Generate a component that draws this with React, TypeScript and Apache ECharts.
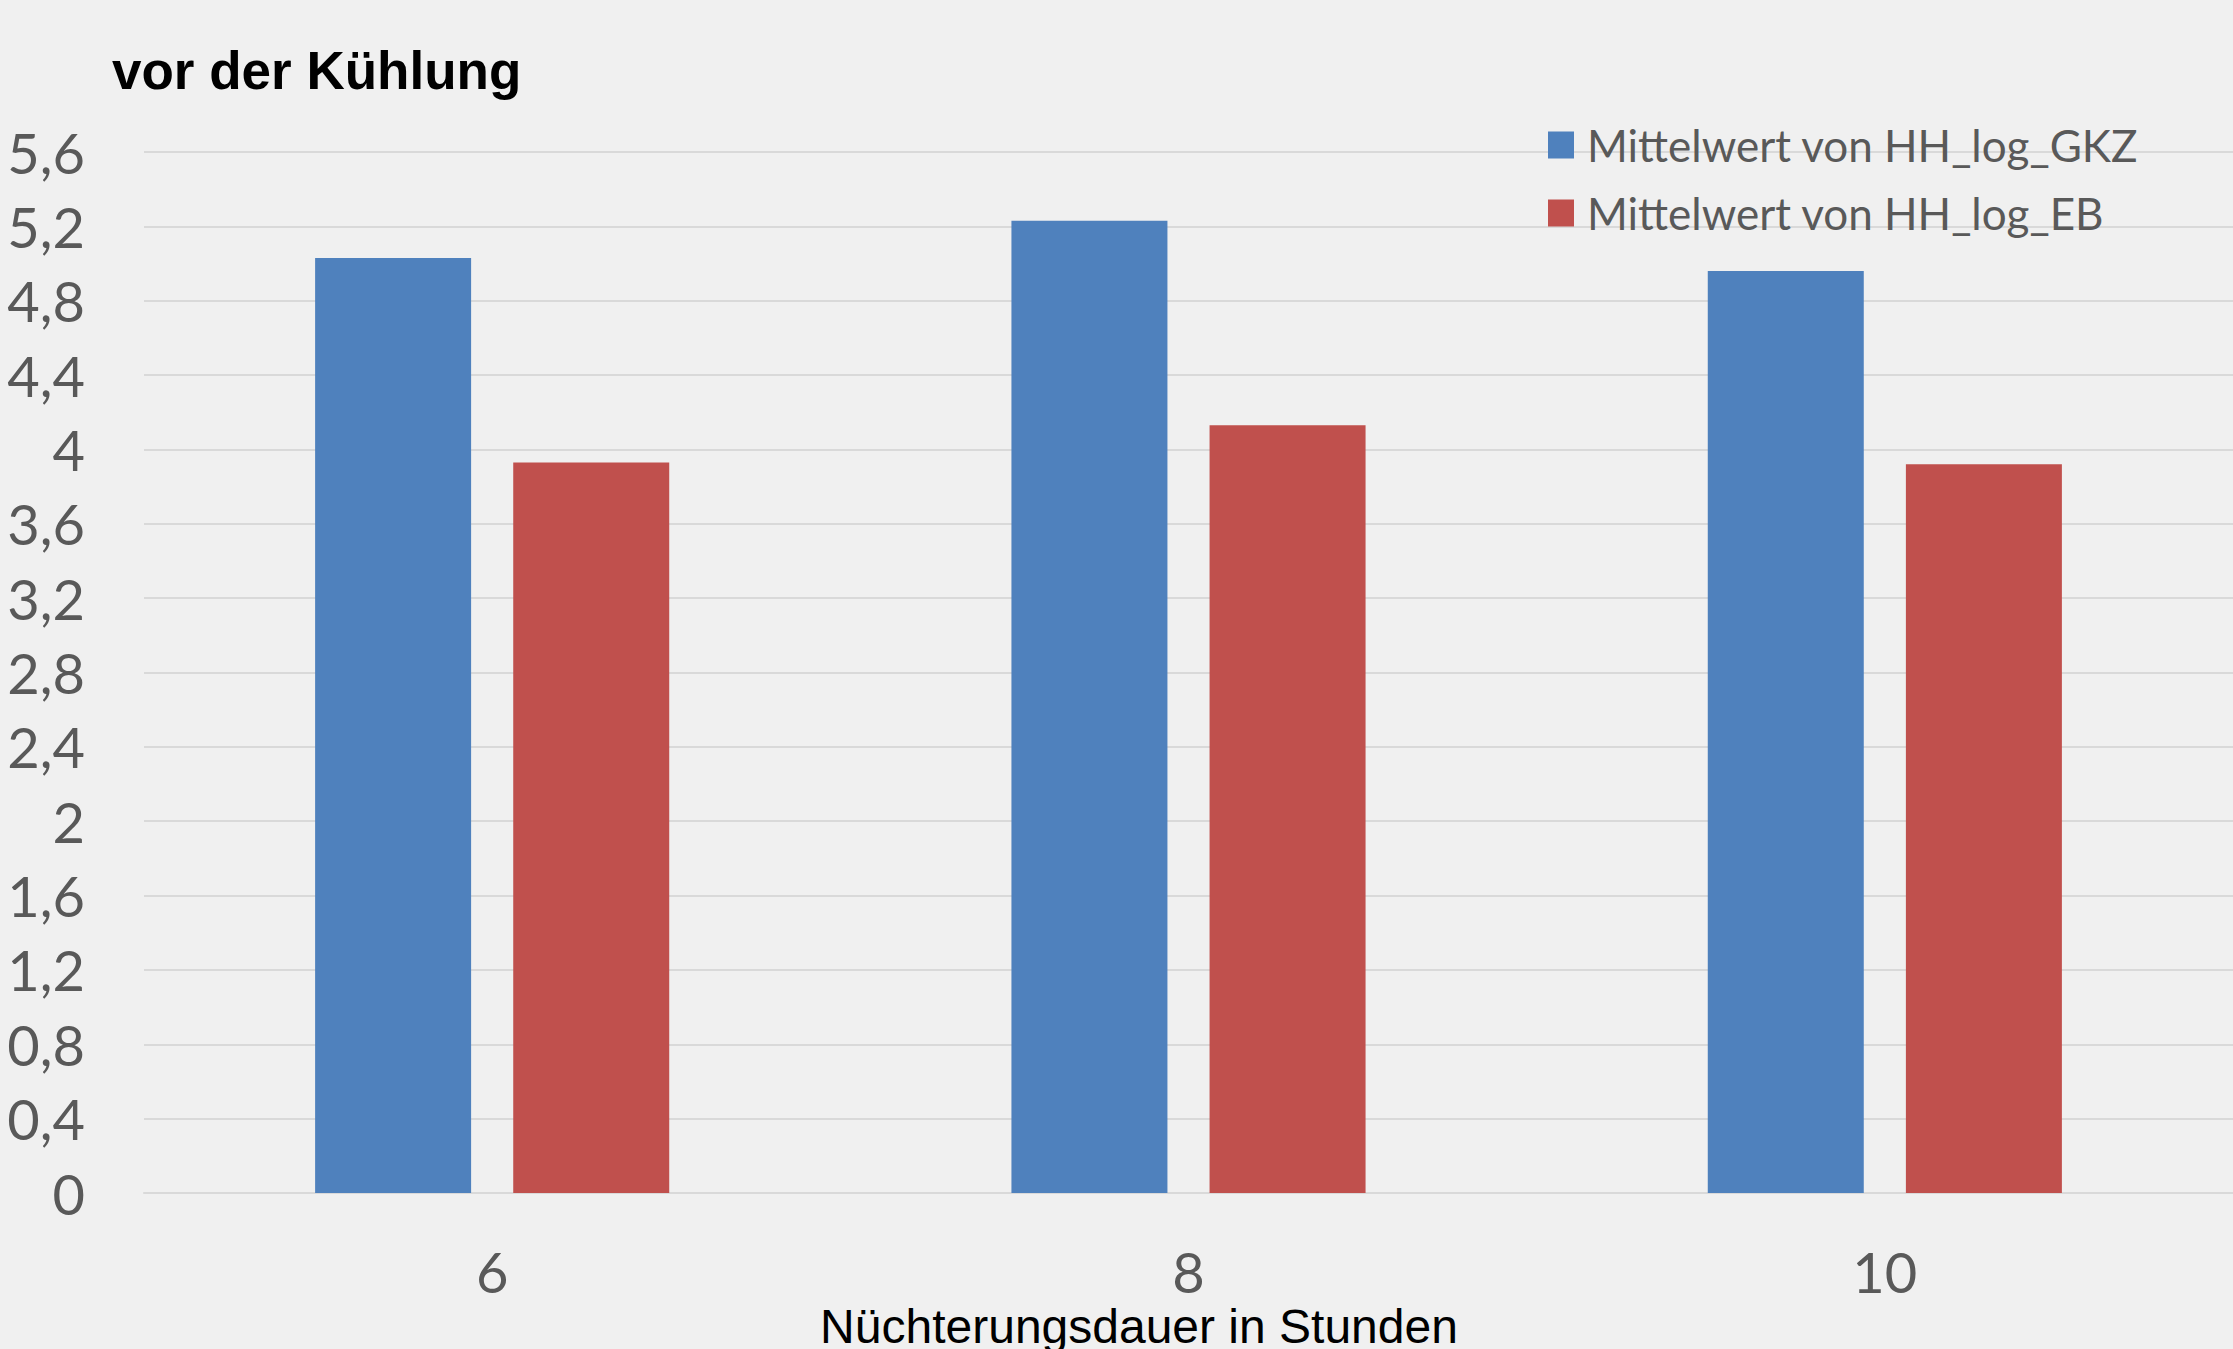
import React, { useEffect, useRef } from "react";
import * as echarts from "echarts";

// Fasting duration in hours (x categories)
const categories = ["6", "8", "10"];
// Mean values per fasting duration
const seriesNames = ["Mittelwert von HH_log_GKZ", "Mittelwert von HH_log_EB"];
const gkzValues = [5.03, 5.23, 4.96];
const ebValues = [3.93, 4.13, 3.92];

const subtitle = "vor der Kühlung";
const xAxisTitle = "Nüchterungsdauer in Stunden";

const BLUE = "#4F81BD";
const RED = "#C0504D";
const GRID = "#D9D9D9";
const LABEL = "#595959";
const BG = "#F0F0F0";
const LABEL_FONT = "Lato, 'Open Sans', sans-serif";

export default function App() {
  const ref = useRef<HTMLDivElement>(null);

  useEffect(() => {
    if (!ref.current) return;
    const chart = echarts.init(ref.current, undefined, { renderer: "svg" });
    chart.setOption({
      animation: false,
      backgroundColor: BG,
      grid: { left: 144, top: 152, width: 2093, height: 1041 },
      legend: {
        orient: "vertical",
        left: 1548,
        top: 123,
        padding: 0,
        itemWidth: 26,
        itemHeight: 27,
        itemGap: 24,
        icon: "rect",
        textStyle: {
          color: LABEL,
          fontSize: 44,
          fontFamily: LABEL_FONT,
          padding: [0, 0, 0, 8],
        },
        data: seriesNames,
      },
      xAxis: {
        type: "category",
        data: categories,
        axisLine: { show: true, lineStyle: { color: GRID, width: 2 } },
        axisTick: { show: false },
        axisLabel: {
          color: LABEL,
          fontSize: 56,
          fontFamily: LABEL_FONT,
          margin: 50,
        },
      },
      yAxis: {
        type: "value",
        min: 0,
        max: 5.6,
        interval: 0.4,
        axisLine: { show: false },
        axisTick: { show: false },
        splitLine: { lineStyle: { color: GRID, width: 2 } },
        axisLabel: {
          color: LABEL,
          fontSize: 56,
          fontFamily: LABEL_FONT,
          margin: 59,
          padding: [0, 0, 8, 0],
          formatter: (v: number) =>
            String(parseFloat(v.toFixed(1))).replace(".", ","),
        },
      },
      series: [
        {
          name: seriesNames[0],
          type: "bar",
          data: gkzValues,
          barWidth: 156,
          barGap: "27%",
          itemStyle: { color: BLUE },
        },
        {
          name: seriesNames[1],
          type: "bar",
          data: ebValues,
          barWidth: 156,
          barGap: "27%",
          itemStyle: { color: RED },
        },
      ],
      graphic: [
        {
          type: "text",
          left: 112,
          top: 44,
          style: {
            text: subtitle,
            fill: "#000",
            font: "bold 53px 'Liberation Sans', Arial, sans-serif",
          },
        },
        {
          type: "text",
          x: 1139,
          y: 1326,
          style: {
            text: xAxisTitle,
            fill: "#000",
            font: "48px 'Liberation Sans', Arial, sans-serif",
            align: "center",
            verticalAlign: "middle",
          },
        },
      ],
    });
    return () => chart.dispose();
  }, []);

  return (
    <div
      ref={ref}
      style={{ position: "fixed", left: 0, top: 0, width: 2233, height: 1349 }}
    />
  );
}
